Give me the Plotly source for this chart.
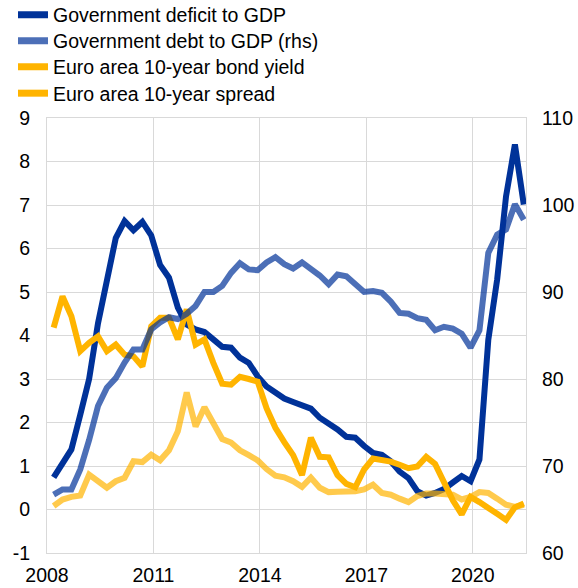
import plotly.graph_objects as go

quarters = [f"{y}Q{q}" for y in range(2008, 2022) for q in range(1, 5)][:54]

deficit = [0.74, 1.07, 1.38, 2.18, 3.00, 4.28, 5.29, 6.24, 6.63, 6.42, 6.61, 6.30, 5.62, 5.33,
           4.64, 4.25, 4.14, 4.08, 3.91, 3.74, 3.72, 3.49, 3.37, 3.06, 2.83, 2.67, 2.55, 2.47,
           2.41, 2.32, 2.11, 1.99, 1.84, 1.67, 1.65, 1.46, 1.30, 1.26, 1.11, 0.87, 0.72, 0.42,
           0.32, 0.38, 0.47, 0.62, 0.77, 0.65, 1.15, 3.90, 5.29, 7.20, 8.39, 7.01]

debt = [66.7, 67.3, 67.3, 69.6, 73.0, 76.9, 79.0, 80.1, 81.9, 83.4, 83.4, 85.7, 86.5, 87.1,
        86.9, 87.5, 88.4, 90.0, 90.0, 90.7, 92.2, 93.3, 92.6, 92.5, 93.4, 94.0, 93.2, 92.7,
        93.4, 92.7, 91.9, 90.9, 92.0, 91.8, 90.9, 90.0, 90.1, 89.9, 88.9, 87.6, 87.5, 87.0,
        86.8, 85.6, 86.0, 85.8, 85.2, 83.6, 85.6, 94.5, 96.6, 97.2, 100.1, 98.3]

bond_yield = [4.18, 4.90, 4.44, 3.64, 3.83, 3.98, 3.64, 3.79, 3.56, 3.52, 3.29, 4.21, 4.41, 4.41,
              3.91, 4.60, 3.79, 3.91, 3.37, 2.89, 2.87, 3.05, 3.00, 2.94, 2.33, 1.88, 1.55, 1.25,
              0.79, 1.65, 1.21, 1.20, 0.79, 0.59, 0.51, 0.92, 1.17, 1.14, 1.10, 1.03, 0.95, 0.99,
              1.21, 1.05, 0.65, 0.21, -0.11, 0.29, 0.17, 0.05, -0.10, -0.24, 0.05, 0.14]

spread = [0.08, 0.23, 0.29, 0.32, 0.80, 0.63, 0.50, 0.65, 0.73, 1.11, 1.09, 1.26, 1.13, 1.36,
          1.80, 2.69, 1.91, 2.35, 1.97, 1.62, 1.54, 1.36, 1.25, 1.13, 0.93, 0.78, 0.74, 0.65,
          0.52, 0.73, 0.50, 0.40, 0.41, 0.41, 0.42, 0.46, 0.57, 0.38, 0.34, 0.25, 0.17, 0.31,
          0.37, 0.37, 0.37, 0.34, 0.23, 0.29, 0.40, 0.38, 0.25, 0.11, 0.06, 0.11]

names = ["Government deficit to GDP", "Government debt to GDP (rhs)",
         "Euro area 10-year bond yield", "Euro area 10-year spread"]

x_ticks = [2008, 2011, 2014, 2017, 2020]
y_ticks = list(range(-1, 10))
y2_ticks = [60, 70, 80, 90, 100, 110]


def qpos(label):
    y, q = label.split("Q")
    return int(y) + (int(q) - 1) * 0.25 + 0.1875


x = [qpos(q) for q in quarters]

DARK = "#003299"
DEBT = "rgba(0,50,153,0.7)"
YEL = "#FFB400"
SPR = "rgba(255,180,0,0.7)"
LW = 6
W, H = 578, 588

fig = go.Figure()
# drawing order: deficit, spread, bond yield, debt (on top)
fig.add_trace(go.Scatter(x=x, y=deficit, mode="lines", line=dict(color=DARK, width=LW),
                         showlegend=False, hoverinfo="skip"))
fig.add_trace(go.Scatter(x=x, y=spread, mode="lines", line=dict(color=SPR, width=LW),
                         showlegend=False, hoverinfo="skip"))
fig.add_trace(go.Scatter(x=x, y=bond_yield, mode="lines", line=dict(color=YEL, width=LW),
                         showlegend=False, hoverinfo="skip"))
fig.add_trace(go.Scatter(x=x, y=debt, mode="lines", line=dict(color=DEBT, width=LW),
                         yaxis="y2", showlegend=False, hoverinfo="skip"))

GRID = "#d9d9d9"
FONT = dict(family="Arial, Liberation Sans, sans-serif", size=19.5, color="#000000")

# one legend per entry so that row spacing matches
legend_keys = ["legend", "legend2", "legend3", "legend4"]
row_y = [15, 41, 67, 93.5]
leg_layout = {}
for nm, col, key, ry in zip(names, [DARK, DEBT, YEL, YEL], legend_keys, row_y):
    fig.add_trace(go.Scatter(x=[None], y=[None], mode="lines", name=nm,
                             line=dict(color=col, width=7), legend=key))
    leg_layout[key] = dict(xref="container", yref="container", x=13 / W,
                           y=1 - ry / H,
                           xanchor="left", yanchor="middle", font=FONT,
                           bgcolor="rgba(0,0,0,0)", itemclick=False)

fig.update_layout(
    width=W, height=H,
    margin=dict(l=47, r=52, t=118, b=35, autoexpand=False),
    paper_bgcolor="white", plot_bgcolor="white",
    font=FONT,
    showlegend=True,
    hovermode=False,
    xaxis=dict(range=[2008, 2021.5], tickvals=x_ticks, ticktext=[str(v) for v in x_ticks],
               showgrid=True, gridcolor=GRID, gridwidth=1,
               showline=True, linecolor=GRID, linewidth=1, mirror=True,
               ticks="outside", ticklen=5, tickcolor="rgba(0,0,0,0)",
               zeroline=False, tickfont=FONT, tickangle=0),
    yaxis=dict(range=[-1, 9], tickvals=y_ticks, ticktext=[str(v) for v in y_ticks],
               showgrid=True, gridcolor=GRID, gridwidth=1,
               showline=True, linecolor=GRID, linewidth=1, mirror=True,
               ticks="outside", ticklen=12, tickcolor="rgba(0,0,0,0)",
               zeroline=False, tickfont=FONT),
    yaxis2=dict(range=[60, 110], tickvals=y2_ticks, ticktext=[str(v) for v in y2_ticks],
                overlaying="y", side="right",
                showgrid=False, zeroline=False, showline=False,
                ticks="outside", ticklen=11, tickcolor="rgba(0,0,0,0)",
                tickfont=FONT),
    **leg_layout,
)

fig.write_html("out.html", config={"displayModeBar": False},
               post_script="document.body.style.margin='0';document.body.style.overflow='hidden';")
